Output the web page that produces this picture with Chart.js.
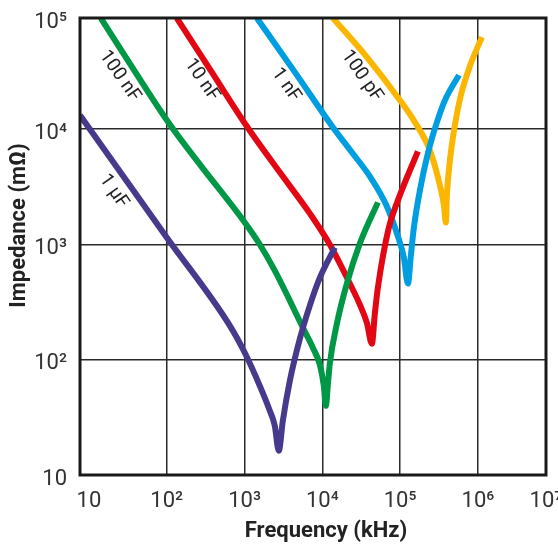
<!DOCTYPE html>
<html>
<head>
<meta charset="utf-8">
<script src="https://cdn.jsdelivr.net/npm/chart.js@4"></script>
<style>
  html, body { margin: 0; padding: 0; background: #fff; }
</style>
</head>
<body>
<canvas id="zChart" width="558" height="550"></canvas>
<script>
// axis ranges: frequency in kHz, impedance in mOhm
const xMin = 7.67, xMax = 7.5e6;
const yMin = 10, yMax = 92300;
const xTicks = [10, 1e2, 1e3, 1e4, 1e5, 1e6, xMax];
const yTicks = [yMin, 1e2, 1e3, 1e4, yMax];
const gridValues = [1e2, 1e3, 1e4, 1e5, 1e6];

// curves
const names = ['1 µF', '100 nF', '10 nF', '1 nF', '100 pF'];
const colors = ['#463a8c', '#009846', '#e30613', '#009ee0', '#fab600'];

const freq1uF = [7.67, 100, 646, 1007, 1571, 2113, 2449, 2754, 3105, 3820, 5140, 6900, 9290, 14490];
const imp1uF  = [13240, 1151, 198, 115, 59.4, 36.1, 26.7, 16.2, 29.5, 65.6, 152, 295, 516, 942];

const freq100nF = [14.2, 38.7, 109, 266, 1007, 1571, 2449, 3820, 5445, 7550, 9290, 10450, 11090, 11780, 12470, 15380, 20650, 30340, 51760];
const imp100nF  = [92200, 31900, 11050, 4960, 1553, 1000, 594, 326, 198, 127, 90.6, 59.4, 39.8, 60.7, 92.3, 206, 458, 1020, 2318];

const freq10nF = [134.5, 379, 1069, 2838, 6900, 12470, 22580, 30340, 37300, 43340, 47300, 51760, 71600, 93600, 169000];
const imp10nF  = [92200, 31300, 10620, 4225, 1862, 1000, 458, 301, 210, 138, 251, 423, 1405, 2415, 6440];

const freq1nF = [1439, 4430, 13650, 23930, 40800, 67600, 93600, 111700, 125900, 137400, 150300, 179500, 227500, 297300, 376700, 570000];
const imp1nF  = [92200, 31300, 10410, 6310, 3900, 2138, 1175, 771, 458, 802, 1405, 2950, 6180, 11510, 17870, 29500];

const freq100pF = [13650, 37300, 99300, 154900, 241500, 324500, 365600, 387000, 399000, 436500, 505800, 604000, 788000, 1125000];
const imp100pF  = [92200, 42300, 17870, 11510, 6560, 3260, 2183, 1553, 2668, 5370, 10830, 19780, 35300, 63100];

// labels written along the lines
const noteText = ['100 nF', '10 nF', '1 nF', '100 pF', '1 µF'];
const noteFreq = [24.8, 282, 3400, 32200, 20.8];
const noteImp  = [28900, 26700, 24200, 28900, 2890];

const freqs = [freq1uF, freq100nF, freq10nF, freq1nF, freq100pF];
const imps = [imp1uF, imp100nF, imp10nF, imp1nF, imp100pF];

const sup = {2: '²', 3: '³', 4: '⁴', 5: '⁵', 6: '⁶', 7: '⁷'};
function powLabel(v) {
  const e = Math.round(Math.log10(v));
  return e === 1 ? '10' : '10' + sup[e];
}

const tickFont = { family: 'Roboto, "DejaVu Sans", sans-serif', size: 22 };
const gridColor = (c) => gridValues.includes(c.tick.value) ? '#2b2b2b' : 'rgba(0,0,0,0)';

const datasets = names.map((n, i) => ({
  label: n,
  data: freqs[i].map((f, j) => ({ x: f, y: imps[i][j] })),
  borderColor: colors[i],
  backgroundColor: colors[i],
  borderWidth: 6,
  pointRadius: 0,
  showLine: true,
  cubicInterpolationMode: 'monotone',
  borderCapStyle: 'butt'
}));

const decorPlugin = {
  id: 'decor',
  afterDatasetsDraw(chart) {
    const { ctx, chartArea: a, scales } = chart;
    ctx.save();
    // frame
    ctx.strokeStyle = '#1a1a1a';
    ctx.lineWidth = 3;
    ctx.strokeRect(a.left, a.top, a.right - a.left, a.bottom - a.top);
    // curve names
    ctx.fillStyle = '#222';
    ctx.font = '19px Roboto, "DejaVu Sans", sans-serif';
    ctx.textAlign = 'center';
    ctx.textBaseline = 'middle';
    noteText.forEach((t, i) => {
      ctx.save();
      ctx.translate(scales.x.getPixelForValue(noteFreq[i]), scales.y.getPixelForValue(noteImp[i]));
      ctx.rotate(55 * Math.PI / 180);
      ctx.fillText(t, 0, 0);
      ctx.restore();
    });
    // axis titles
    ctx.font = 'bold 22px Roboto, "DejaVu Sans", sans-serif';
    ctx.fillText('Frequency (kHz)', (a.left + a.right) / 2 + 13, 531);
    ctx.save();
    ctx.translate(19, (a.top + a.bottom) / 2 - 21);
    ctx.rotate(-Math.PI / 2);
    ctx.fillText('Impedance (mΩ)', 0, 0);
    ctx.restore();
    ctx.restore();
  }
};

const config = {
  type: 'scatter',
  data: { datasets },
  options: {
    responsive: false,
    animation: false,
    layout: { padding: { top: 18, right: 12, left: 0, bottom: 0 } },
    plugins: { legend: { display: false }, tooltip: { enabled: false } },
    scales: {
      x: {
        type: 'logarithmic',
        min: xMin,
        max: xMax,
        afterBuildTicks: (s) => { s.ticks = xTicks.map(v => ({ value: v })); },
        afterFit: (s) => { s.height = 75; s.paddingLeft = 0; s.paddingRight = 0; },
        ticks: { font: tickFont, color: '#333', padding: 13, maxRotation: 0, autoSkip: false, callback: (v) => powLabel(v) },
        grid: { color: gridColor, lineWidth: 1.5, drawTicks: false },
        border: { display: false }
      },
      y: {
        type: 'logarithmic',
        min: yMin,
        max: yMax,
        afterBuildTicks: (s) => { s.ticks = yTicks.map(v => ({ value: v })); },
        afterFit: (s) => { s.width = 80; s.paddingTop = 0; s.paddingBottom = 0; },
        ticks: { font: tickFont, color: '#333', padding: 13, labelOffset: 4, autoSkip: false, callback: (v) => powLabel(v) },
        grid: { color: gridColor, lineWidth: 1.5, drawTicks: false },
        border: { display: false }
      }
    }
  },
  plugins: [decorPlugin]
};

const zChart = new Chart(document.getElementById('zChart'), config);
</script>
</body>
</html>
